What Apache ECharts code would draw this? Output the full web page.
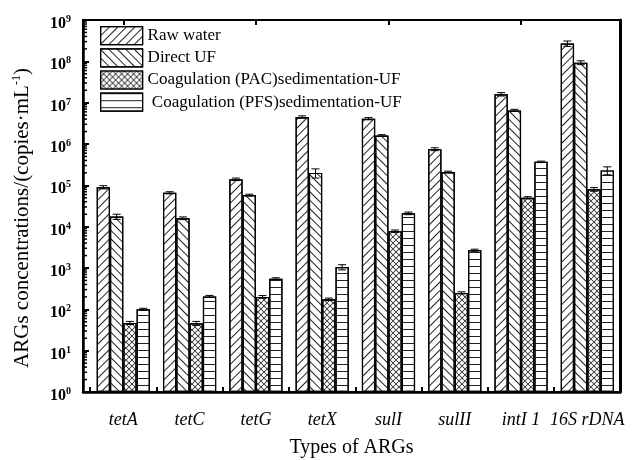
<!DOCTYPE html>
<html><head><meta charset="utf-8">
<script src="https://cdn.jsdelivr.net/npm/echarts@6/dist/echarts.min.js"></script>
<style>html,body{margin:0;padding:0;background:#fff}#c{width:636px;height:460px}</style>
</head><body><div id="c"></div>
<script>
const categories = ['tetA','tetC','tetG','tetX','sulI','sulII','intI 1','16S rDNA'];
const seriesNames = ['Raw water','Direct UF','Coagulation (PAC)sedimentation-UF',' Coagulation (PFS)sedimentation-UF'];
const rawWater   = [9.0e4, 6.6e4, 1.4e5, 4.5e6, 4.1e6, 7.5e5, 1.6e7, 2.7e8];
const directUF   = [1.75e4, 1.6e4, 5.8e4, 2.0e5, 1.6e6, 2.1e5, 6.5e6, 9.3e7];
const pacUF      = [47, 46, 200, 175, 7.8e3, 250, 5.0e4, 8.0e4];
const pfsUF      = [100, 205, 550, 1050, 2.1e4, 2.7e3, 3.7e5, 2.3e5];
const rawErr     = [8e3, 4e3, 1e4, 3e5, 2.5e5, 6e4, 1.5e6, 4e7];
const directErr  = [2.5e3, 1.2e3, 3e3, 5e4, 8e4, 1e4, 4e5, 1e7];
const pacErr     = [4, 5, 15, 12, 5e2, 15, 3e3, 8e3];
const pfsErr     = [6, 12, 30, 150, 1.5e3, 1.5e2, 1.5e4, 5e4];
const yTickExponents = [0,1,2,3,4,5,6,7,8,9];
const minorFactors = [2,3,4,5,6,7,8,9];

const values = [rawWater, directUF, pacUF, pfsUF];
const errors = [rawErr, directErr, pacErr, pfsErr];
const FONT = 'Liberation Serif';
const BW = 13.3;

const decals = [
  {symbol:'rect', dashArrayX:[1,0], dashArrayY:[0.8,4.2], rotation:-Math.PI/4, color:'#222'},
  {symbol:'rect', dashArrayX:[1,0], dashArrayY:[0.8,4.2], rotation:Math.PI/4, color:'#222'},
  {symbol:'path://M0,0L1,0L10,9L10,10L9,10L0,1Z M9,0L10,0L10,1L1,10L0,10L0,9Z', symbolSize:1, symbolKeepAspect:false, dashArrayX:[6,0], dashArrayY:[6,0], color:'#222'},
  {symbol:'rect', dashArrayX:[1,0], dashArrayY:[0.9,6], rotation:0, color:'#222'}
];

const minorVals = [];
yTickExponents.slice(0,9).forEach(e => minorFactors.forEach(f => minorVals.push([0, f*Math.pow(10,e)])));

const series = [];
values.forEach((arr, j) => {
  series.push({
    name: seriesNames[j], type:'bar', xAxisIndex:1, yAxisIndex:2,
    barWidth: BW, barGap:'0%', data: arr,
    itemStyle:{color:'#fff', borderColor:'#000', borderWidth:1.2, decal: decals[j]},
    emphasis:{disabled:true}, z:2
  });
});
values.forEach((arr, j) => {
  series.push({
    type:'custom', xAxisIndex:1, yAxisIndex:2, z:5, silent:true,
    data: arr.map((v,i) => [i, v, errors[j][i]]),
    renderItem: function(params, api){
      const i = api.value(0), v = api.value(1), e = api.value(2);
      const off = (j - 1.5) * BW;
      const top = api.coord([i, v + e]);
      const bot = api.coord([i, Math.max(v - e, 1)]);
      const x = top[0] + off, cw = 4;
      const st = {stroke:'#000', lineWidth:1};
      return {type:'group', children:[
        {type:'line', shape:{x1:x, y1:top[1], x2:x, y2:bot[1]}, style:st},
        {type:'line', shape:{x1:x-cw, y1:top[1], x2:x+cw, y2:top[1]}, style:st},
        {type:'line', shape:{x1:x-cw, y1:bot[1], x2:x+cw, y2:bot[1]}, style:st}
      ]};
    }
  });
});
series.push({
  type:'custom', xAxisIndex:0, yAxisIndex:0, z:6, silent:true, data: minorVals,
  renderItem: function(params, api){
    const p = api.coord([0, api.value(1)]);
    return {type:'line', shape:{x1:p[0], y1:p[1], x2:p[0]+4, y2:p[1]}, style:{stroke:'#000', lineWidth:1.5}};
  }
});

const chart = echarts.init(document.getElementById('c'), null, {renderer:'canvas'});
chart.setOption({
  animation:false,
  backgroundColor:'#fff',
  grid:[
    {left:83, right:16, top:20, bottom:68, containLabel:false, outerBoundsMode:'none', show:true, borderColor:'#000', borderWidth:2, backgroundColor:'transparent'},
    {left:90.15, right:15.5, top:20, bottom:68, containLabel:false, outerBoundsMode:'none'}
  ],
  legend:{
    data: seriesNames, orient:'vertical', left:100, top:26, padding:0, itemWidth:42, itemHeight:18, itemGap:3,
    icon:'rect', selectedMode:false,
    itemStyle:{borderColor:'#000', borderWidth:1.2},
    textStyle:{fontFamily:FONT, fontSize:17, color:'#000', lineHeight:18}
  },
  xAxis:[
    {gridIndex:0, type:'value', min:0, max:1, splitLine:{show:false}, axisLabel:{show:false}, axisTick:{show:false},
     axisLine:{show:true, onZero:false, lineStyle:{color:'#000', width:2.5}},
     name:'Types of ARGs', nameLocation:'middle', nameGap:46,
     nameTextStyle:{fontFamily:FONT, fontSize:20, color:'#000'}},
    {gridIndex:1, type:'category', data:categories, axisLine:{show:false},
     axisTick:{show:true, inside:true, length:5, lineStyle:{color:'#000', width:2}},
     axisLabel:{interval:0, margin:19, fontFamily:FONT, fontStyle:'italic', fontSize:18, color:'#000'}},
    {gridIndex:1, type:'category', data:categories, axisLine:{show:false},
     axisTick:{show:true, inside:true, alignWithLabel:true, length:5, lineStyle:{color:'#000', width:2}},
     axisLabel:{show:false}}
  ],
  yAxis:[
    {gridIndex:0, type:'log', logBase:10, min:1, max:1e9, splitNumber:9,
     splitLine:{show:false},
     axisLine:{show:true, onZero:false, lineStyle:{color:'#000', width:2.5}},
     axisTick:{show:true, inside:true, length:6, lineStyle:{color:'#000', width:2}},
     axisLabel:{margin:12, padding:[8,0,0,0], formatter: v => '{b|10}{s|' + Math.round(Math.log10(v)) + '}',
       rich:{b:{fontFamily:FONT, fontWeight:'bold', fontSize:16, color:'#000'},
             s:{fontFamily:FONT, fontWeight:'bold', fontSize:10, color:'#000', padding:[0,0,9,0]}}},
     name:'{t|ARGs concentrations/(copies·mL}{s|-1}{t|)}', nameLocation:'middle', nameGap:50, nameRotate:90,
     nameTextStyle:{padding:[0,24,0,0], rich:{t:{fontFamily:FONT, fontSize:21, color:'#000'},
       s:{fontFamily:FONT, fontSize:12, color:'#000', padding:[0,0,10,0]}}}},
    {gridIndex:0, type:'log', logBase:10, min:1, max:1e9, position:'right', splitLine:{show:false},
     axisLabel:{show:false}, axisTick:{show:false}, axisLine:{show:true, onZero:false, lineStyle:{color:'#000', width:3}}},
    {gridIndex:1, type:'log', logBase:10, min:1, max:1e9, show:false}
  ],
  series: series
});
</script></body></html>
